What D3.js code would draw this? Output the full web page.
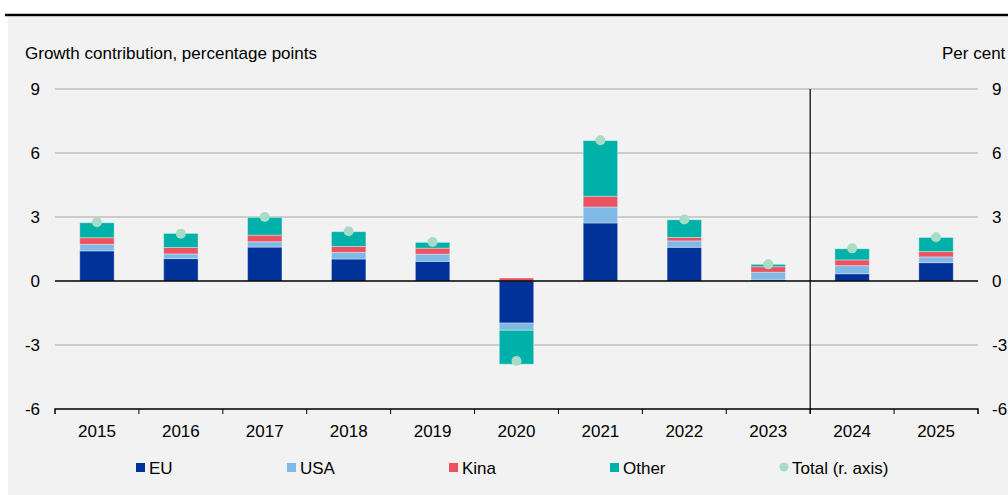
<!DOCTYPE html>
<html lang="en">
<head>
<meta charset="utf-8">
<title>Growth contribution</title>
<script src="https://cdn.jsdelivr.net/npm/d3@7"></script>
<style>
  body { margin: 0; background: #ffffff; }
  text { font-family: "Liberation Sans", Arial, sans-serif; fill: #000; }
</style>
</head>
<body>
<script>
// Data
var years = ["2015", "2016", "2017", "2018", "2019", "2020", "2021", "2022", "2023", "2024", "2025"];
var eu    = [1.41, 1.05, 1.59, 1.03, 0.92, -1.97, 2.72, 1.58, 0.05, 0.34, 0.86];
var usa   = [0.31, 0.22, 0.25, 0.31, 0.34, -0.34, 0.75, 0.30, 0.36, 0.38, 0.27];
var kina  = [0.31, 0.30, 0.31, 0.28, 0.28, 0.14, 0.50, 0.16, 0.26, 0.27, 0.25];
var other = [0.70, 0.66, 0.83, 0.69, 0.27, -1.59, 2.61, 0.83, 0.11, 0.52, 0.66];
var total = [2.75, 2.22, 3.00, 2.33, 1.83, -3.75, 6.60, 2.88, 0.78, 1.53, 2.05];
var yTicks = [-6, -3, 0, 3, 6, 9];
var seriesNames = ["EU", "USA", "Kina", "Other"];
var seriesColors = ["#003299", "#7fb9e6", "#ec535e", "#00b1a9"];
var totalColor = "#a9dcc6";
var forecastFrom = "2024";

var width = 1008, height = 495;
// plot area (note: "top" is a reserved window property, so use other names)
var plotL = 55, plotR = 978, plotT = 89, plotB = 409;

var svg = d3.select("body").append("svg")
    .attr("width", width)
    .attr("height", height);

// background panel and top rule
svg.append("rect")
    .attr("x", 8).attr("y", 17)
    .attr("width", width - 8).attr("height", height - 17)
    .attr("fill", "#f2f2f2");
svg.append("line")
    .attr("x1", 5).attr("x2", width)
    .attr("y1", 15).attr("y2", 15)
    .attr("stroke", "#000").attr("stroke-width", 2.5);

var xScale = d3.scaleBand().domain(years).range([plotL, plotR]);
var yScale = d3.scaleLinear().domain([-6, 9]).range([plotB, plotT]);
var yRight = d3.scaleLinear().domain([-6, 9]).range([plotB, plotT]);

// gridlines
svg.append("g").selectAll("line")
    .data(yTicks.filter(function(d) { return d != 0 && d != -6; }))
    .enter().append("line")
    .attr("x1", plotL).attr("x2", plotR)
    .attr("y1", function(d) { return yScale(d); })
    .attr("y2", function(d) { return yScale(d); })
    .attr("stroke", "#a6a6a6").attr("stroke-width", 1);

// y tick labels, both sides
svg.append("g").selectAll("text")
    .data(yTicks).enter().append("text")
    .attr("x", 40)
    .attr("y", function(d) { return yScale(d) + 6; })
    .attr("text-anchor", "end")
    .attr("font-size", "17px")
    .text(function(d) { return d; });
svg.append("g").selectAll("text")
    .data(yTicks).enter().append("text")
    .attr("x", 992)
    .attr("y", function(d) { return yRight(d) + 6; })
    .attr("font-size", "17px")
    .text(function(d) { return d; });

// axis titles
svg.append("text")
    .attr("x", 25).attr("y", 59)
    .attr("font-size", "17px")
    .text("Growth contribution, percentage points");
svg.append("text")
    .attr("x", 942).attr("y", 59)
    .attr("font-size", "17px")
    .text("Per cent");

// stacked bars
var rows = years.map(function(y, i) {
    return { year: y, EU: eu[i], USA: usa[i], Kina: kina[i], Other: other[i] };
});
var stacked = d3.stack()
    .keys(seriesNames)
    .offset(d3.stackOffsetDiverging)(rows);

var barW = xScale.bandwidth() * 0.41;
svg.append("g").selectAll("g")
    .data(stacked).enter().append("g")
    .attr("fill", function(d, i) { return seriesColors[i]; })
    .selectAll("rect")
    .data(function(d) { return d; })
    .enter().append("rect")
    .attr("x", function(d) { return xScale(d.data.year) + (xScale.bandwidth() - barW) / 2; })
    .attr("y", function(d) { return yScale(Math.max(d[0], d[1])); })
    .attr("width", barW)
    .attr("height", function(d) { return Math.abs(yScale(d[0]) - yScale(d[1])); })
    .attr("stroke", "#ffffff")
    .attr("stroke-opacity", 0.35)
    .attr("stroke-width", 1);

// zero line
svg.append("line")
    .attr("x1", plotL).attr("x2", plotR)
    .attr("y1", yScale(0)).attr("y2", yScale(0))
    .attr("stroke", "#000").attr("stroke-width", 1.5);

// x axis at the bottom
var xAxis = d3.axisBottom(xScale).tickSize(0).tickPadding(16);
var gx = svg.append("g")
    .attr("transform", "translate(0," + plotB + ")")
    .call(xAxis);
gx.select(".domain").attr("stroke", "#000").attr("stroke-width", 1.5)
    .attr("d", "M" + plotL + ",5V0H" + plotR + "V5");
gx.selectAll("text")
    .attr("font-size", "17px")
    .attr("font-family", "Liberation Sans, Arial, sans-serif")
    .attr("fill", "#000");
gx.append("g").selectAll("line")
    .data(years.slice(1)).enter().append("line")
    .attr("x1", function(d) { return xScale(d); })
    .attr("x2", function(d) { return xScale(d); })
    .attr("y1", 0).attr("y2", 5)
    .attr("stroke", "#000").attr("stroke-width", 1);

// forecast divider
svg.append("line")
    .attr("x1", xScale(forecastFrom)).attr("x2", xScale(forecastFrom))
    .attr("y1", plotT).attr("y2", plotB + 5)
    .attr("stroke", "#000").attr("stroke-width", 1.2);

// total dots on the right axis
svg.append("g").selectAll("circle")
    .data(total).enter().append("circle")
    .attr("cx", function(d, i) { return xScale(years[i]) + xScale.bandwidth() / 2; })
    .attr("cy", function(d) { return yRight(d); })
    .attr("r", 5)
    .attr("fill", totalColor);

// legend
var legendX = [136, 287, 449, 610];
var leg = svg.append("g");
seriesNames.forEach(function(name, i) {
    leg.append("rect")
        .attr("x", legendX[i]).attr("y", 463)
        .attr("width", 9).attr("height", 9)
        .attr("fill", seriesColors[i]);
    leg.append("text")
        .attr("x", legendX[i] + 13).attr("y", 474)
        .attr("font-size", "17px")
        .text(name);
});
leg.append("circle")
    .attr("cx", 784).attr("cy", 467).attr("r", 4.5)
    .attr("fill", totalColor);
leg.append("text")
    .attr("x", 792).attr("y", 474)
    .attr("font-size", "17px")
    .text("Total (r. axis)");
</script>
</body>
</html>
